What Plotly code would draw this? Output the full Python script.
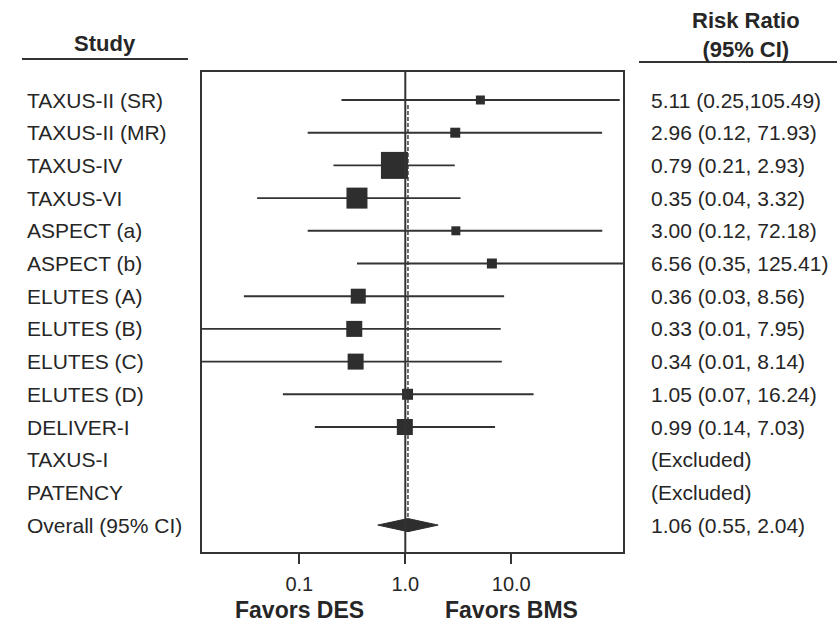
import math
import plotly.graph_objects as go

# ---- data -------------------------------------------------------------
studies = ["TAXUS-II (SR)", "TAXUS-II (MR)", "TAXUS-IV", "TAXUS-VI",
           "ASPECT (a)", "ASPECT (b)", "ELUTES (A)", "ELUTES (B)",
           "ELUTES (C)", "ELUTES (D)", "DELIVER-I", "TAXUS-I", "PATENCY"]
risk_ratio = [5.11, 2.96, 0.79, 0.35, 3.00, 6.56, 0.36, 0.33, 0.34, 1.05, 0.99, None, None]
ci_low = [0.25, 0.12, 0.21, 0.04, 0.12, 0.35, 0.03, 0.01, 0.01, 0.07, 0.14, None, None]
ci_high = [105.49, 71.93, 2.93, 3.32, 72.18, 125.41, 8.56, 7.95, 8.14, 16.24, 7.03, None, None]
# relative study weight, shown as the side of each square (px)
weight_px = [9, 10, 27, 21, 9, 10, 15, 16, 16, 11, 16, 0, 0]
ci_text = ["5.11 (0.25,105.49)", "2.96 (0.12, 71.93)", "0.79 (0.21, 2.93)",
           "0.35 (0.04, 3.32)", "3.00 (0.12, 72.18)", "6.56 (0.35, 125.41)",
           "0.36 (0.03, 8.56)", "0.33 (0.01, 7.95)", "0.34 (0.01, 8.14)",
           "1.05 (0.07, 16.24)", "0.99 (0.14, 7.03)", "(Excluded)", "(Excluded)"]

overall_label = "Overall (95% CI)"
overall_rr, overall_low, overall_high = 1.06, 0.55, 2.04
overall_text = "1.06 (0.55, 2.04)"

tick_vals = [0.1, 1.0, 10.0]
tick_text = ["0.1", "1.0", "10.0"]

# ---- styling ----------------------------------------------------------
FONT = "Liberation Sans, Arial, sans-serif"
INK = "#262626"
LINE = "#333333"
MARK = "#2e2e2e"
W, H = 837, 622
M = dict(l=202, r=214, t=72, b=70)
PW = W - M["l"] - M["r"]
PH = H - M["t"] - M["b"]

n_rows = len(studies) + 1
rows = list(range(n_rows))
overall_row = n_rows - 1


def px_x(px):
    return (px - M["l"]) / PW


def px_y(py):
    return (H - M["b"] - py) / PH


fig = go.Figure()

# confidence-interval whiskers
wx, wy = [], []
for r, (lo, hi) in enumerate(zip(ci_low, ci_high)):
    if lo is None:
        continue
    wx += [lo, hi, None]
    wy += [r, r, None]
fig.add_trace(go.Scatter(x=wx, y=wy, mode="lines",
                         line=dict(color=LINE, width=1.9),
                         hoverinfo="skip", showlegend=False))

# point estimates, sized by weight
est_rows = [r for r, v in enumerate(risk_ratio) if v is not None]
fig.add_trace(go.Scatter(
    x=[risk_ratio[r] for r in est_rows], y=est_rows, mode="markers",
    marker=dict(symbol="square", size=[weight_px[r] for r in est_rows],
                color=MARK, opacity=1, line=dict(width=0)),
    showlegend=False))

# pooled estimate: dashed reference and diamond
fig.add_trace(go.Scatter(x=[overall_rr, overall_rr], y=[0.15, overall_row - 0.2],
                         mode="lines",
                         line=dict(color=LINE, width=1.4, dash="4px,2px"),
                         hoverinfo="skip", showlegend=False))
half = 0.2
fig.add_trace(go.Scatter(
    x=[overall_low, overall_rr, overall_high, overall_rr, overall_low],
    y=[overall_row, overall_row - half, overall_row, overall_row + half, overall_row],
    mode="lines", fill="toself", fillcolor=MARK,
    line=dict(color=MARK, width=1), showlegend=False))

# line of no effect
fig.add_shape(type="line", xref="x", yref="paper", x0=1, x1=1, y0=0, y1=1,
              line=dict(color=LINE, width=2))

# axis ranges on a log scale
x_left, x_right = -1.918, 2.054
row_px = 32.7
y_top = -(100 - M["t"]) / row_px
y_bot = (H - M["b"] - 100) / row_px

fig.update_xaxes(type="log", range=[x_left, x_right],
                 tickvals=tick_vals, ticktext=tick_text,
                 ticks="outside", ticklen=10, tickwidth=1.8, tickcolor=LINE,
                 tickfont=dict(family=FONT, size=20, color=INK),
                 ticklabelstandoff=3,
                 showgrid=False, zeroline=False,
                 showline=True, mirror=True, linecolor=LINE, linewidth=1.8)
fig.update_yaxes(range=[y_bot, y_top], showticklabels=False, ticks="",
                 showgrid=False, zeroline=False,
                 showline=True, mirror=True, linecolor=LINE, linewidth=1.8)

ann = []
labels_left = studies + [overall_label]
labels_right = ci_text + [overall_text]
for r in rows:
    ann.append(dict(x=px_x(25), xref="paper", y=r, yref="y", text=labels_left[r],
                    xanchor="left", yanchor="middle", showarrow=False,
                    font=dict(family=FONT, size=21, color=INK)))
    ann.append(dict(x=px_x(649), xref="paper", y=r, yref="y", text=labels_right[r],
                    xanchor="left", yanchor="middle", showarrow=False,
                    font=dict(family=FONT, size=21, color=INK)))

# column headers
ann.append(dict(x=px_x(105), xref="paper", y=px_y(43), yref="paper",
                text="<b>Study</b>", showarrow=False, xanchor="center", yanchor="middle",
                font=dict(family=FONT, size=22, color=INK)))
ann.append(dict(x=px_x(746), xref="paper", y=px_y(35), yref="paper",
                text="<b>Risk Ratio<br>(95% CI)</b>", showarrow=False,
                xanchor="center", yanchor="middle",
                font=dict(family=FONT, size=22, color=INK)))
fig.add_shape(type="line", xref="paper", yref="paper",
              x0=px_x(22), x1=px_x(188), y0=px_y(59), y1=px_y(59),
              line=dict(color=LINE, width=1.8))
fig.add_shape(type="line", xref="paper", yref="paper",
              x0=px_x(639), x1=px_x(837), y0=px_y(62), y1=px_y(62),
              line=dict(color=LINE, width=1.8))

# direction labels under the axis
ann.append(dict(x=math.log10(0.1), xref="x", y=px_y(610), yref="paper",
                text="<b>Favors DES</b>", showarrow=False, xanchor="center", yanchor="middle",
                font=dict(family=FONT, size=23, color=INK)))
ann.append(dict(x=math.log10(10), xref="x", y=px_y(610), yref="paper",
                text="<b>Favors BMS</b>", showarrow=False, xanchor="center", yanchor="middle",
                font=dict(family=FONT, size=23, color=INK)))

fig.update_layout(width=W, height=H, margin=M, annotations=ann,
                  plot_bgcolor="white", paper_bgcolor="white", showlegend=False)

fig.write_html("out.html")
